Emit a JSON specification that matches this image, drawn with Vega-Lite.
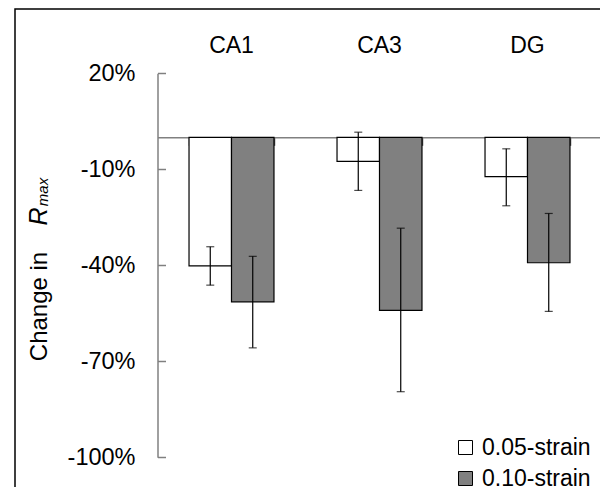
{
  "$schema": "https://vega.github.io/schema/vega-lite/v6.json",
  "width": 586,
  "height": 479,
  "autosize": "none",
  "padding": {"left": 15, "top": 9, "right": 0, "bottom": 0},
  "background": "white",
  "config": {
    "font": "Liberation Sans",
    "view": {"stroke": "black", "strokeWidth": 1.5},
    "axis": {"grid": false, "labelFont": "Liberation Sans", "titleFont": "Liberation Sans", "labelColor": "black", "titleColor": "black"},
    "legend": {"labelFont": "Liberation Sans"}
  },
  "data": {
    "values": [
      {"region": "CA1", "strain": "0.05-strain", "mean": -40.2, "lo": -46.2, "hi": -34.2},
      {"region": "CA1", "strain": "0.10-strain", "mean": -51.4, "lo": -65.8, "hi": -37.2},
      {"region": "CA3", "strain": "0.05-strain", "mean": -7.5, "lo": -16.6, "hi": 1.6},
      {"region": "CA3", "strain": "0.10-strain", "mean": -54.1, "lo": -79.5, "hi": -28.4},
      {"region": "DG", "strain": "0.05-strain", "mean": -12.3, "lo": -21.4, "hi": -3.6},
      {"region": "DG", "strain": "0.10-strain", "mean": -39.2, "lo": -54.4, "hi": -23.8}
    ]
  },
  "layer": [
    {
      "mark": {"type": "bar", "stroke": "black", "strokeWidth": 1.2},
      "encoding": {
        "x": {
          "field": "region", "type": "nominal",
          "scale": {"domain": ["CA1", "CA3", "DG"], "range": [142.5, 586.5], "paddingInner": 0.426, "paddingOuter": 0.213},
          "axis": {"orient": "top", "offset": -43.3, "title": null, "domain": false, "ticks": false, "labelAngle": 0, "labelFontSize": 23, "labelBaseline": "alphabetic", "labelPadding": 0}
        },
        "xOffset": {"field": "strain", "type": "nominal", "scale": {"domain": ["0.05-strain", "0.10-strain"]}},
        "y": {
          "field": "mean", "type": "quantitative",
          "scale": {"domain": [-100, 20], "range": [448.3, 64.3], "nice": false, "zero": false},
          "axis": {
            "orient": "left", "offset": -142.5, "values": [-100, -70, -40, -10, 20],
            "labelExpr": "datum.value + '%'", "labelFontSize": 23.5, "labelPadding": 30.5,
            "tickSize": -8, "tickColor": "#808080", "tickWidth": 1.5,
            "domainColor": "#808080", "domainWidth": 1.5,
            "title": "Change in", "titleFontSize": 24, "titleFontWeight": "normal",
            "titleX": -111.5, "titleY": 297, "titleAngle": 270, "titleAlign": "center", "titleBaseline": "alphabetic"
          }
        },
        "fill": {
          "field": "strain", "type": "nominal",
          "scale": {"domain": ["0.05-strain", "0.10-strain"], "range": ["#ffffff", "#808080"]},
          "legend": {
            "orient": "none", "legendX": 439, "legendY": 427, "title": null, "padding": 0,
            "labelFontSize": 23, "symbolType": "square", "symbolSize": 196,
            "symbolStrokeColor": "black", "symbolStrokeWidth": 1, "rowPadding": 7, "labelOffset": 5
          }
        }
      }
    },
    {
      "mark": {"type": "rule", "color": "black", "strokeWidth": 1.2},
      "encoding": {
        "x": {
          "field": "region", "type": "nominal",
          "axis": {"orient": "bottom", "offset": -350.7, "title": null, "labels": false, "ticks": true, "tickBand": "extent", "tickSize": 8, "tickColor": "#505050", "tickWidth": 1.5, "domainColor": "#808080", "domainWidth": 1.5}
        },
        "xOffset": {"field": "strain", "type": "nominal"},
        "y": {
          "field": "lo", "type": "quantitative",
          "axis": {"orient": "left", "offset": -142.5, "domain": false, "ticks": false, "labels": false, "title": "R", "titleFontSize": 25, "titleFontStyle": "italic", "titleFontWeight": "normal", "titleX": -111.5, "titleY": 207, "titleAngle": 270, "titleAlign": "center", "titleBaseline": "alphabetic"}
        },
        "y2": {"field": "hi"}
      }
    },
    {
      "mark": {"type": "tick", "color": "black", "size": 8, "thickness": 1.2},
      "encoding": {
        "x": {"field": "region", "type": "nominal", "axis": null},
        "xOffset": {"field": "strain", "type": "nominal"},
        "y": {
          "field": "lo", "type": "quantitative",
          "axis": {"orient": "left", "offset": -142.5, "domain": false, "ticks": false, "labels": false, "title": "max", "titleFontSize": 15, "titleFontStyle": "italic", "titleFontWeight": "normal", "titleX": -110.5, "titleY": 182.5, "titleAngle": 270, "titleAlign": "center", "titleBaseline": "alphabetic"}
        }
      }
    },
    {
      "mark": {"type": "tick", "color": "black", "size": 8, "thickness": 1.2},
      "encoding": {
        "x": {"field": "region", "type": "nominal", "axis": null},
        "xOffset": {"field": "strain", "type": "nominal"},
        "y": {"field": "hi", "type": "quantitative", "axis": null}
      }
    }
  ],
  "resolve": {"axis": {"x": "independent", "y": "independent"}}
}
